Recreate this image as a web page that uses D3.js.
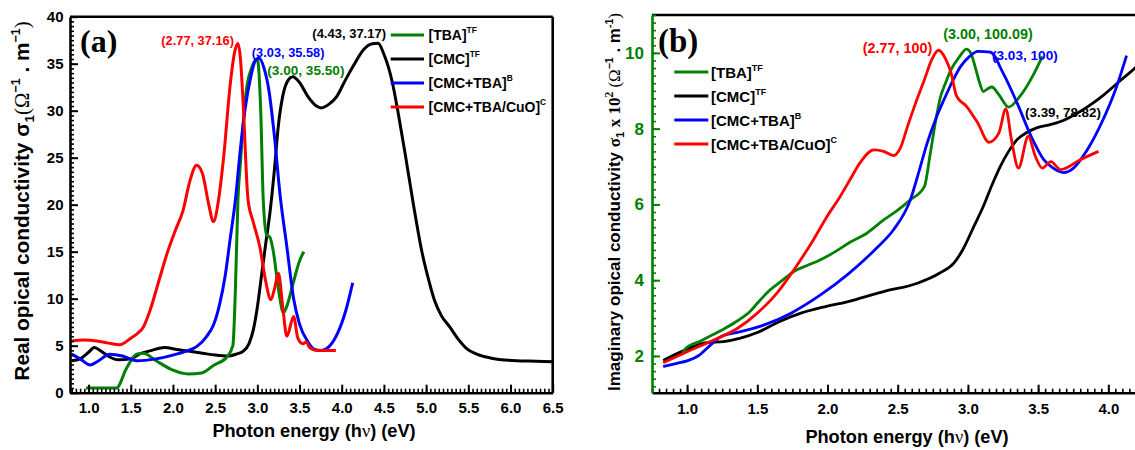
<!DOCTYPE html>
<html><head><meta charset="utf-8">
<script src="https://cdn.jsdelivr.net/npm/d3@7"></script>
<style>
body{margin:0;background:#fff}
svg{display:block}
text{font-family:"Liberation Sans",Arial,sans-serif;font-weight:bold}
</style>
</head><body>
<svg id="c" width="1135" height="450"></svg>
<script>
// ---------- DATA : panel (a) real optical conductivity ----------
const seriesNames = ["[TBA]", "[CMC]", "[CMC+TBA]", "[CMC+TBA/CuO]"];
const seriesSup   = ["TF", "TF", "B", "C"];

const realTBA_E = [0.97,1.1,1.2,1.33,1.45,1.57,1.65,1.8,2.0,2.18,2.34,2.48,2.64,2.71,2.74,2.77,2.8,2.84,2.87,2.93,3.0,3.04,3.07,3.11,3.15,3.19,3.25,3.31,3.36,3.42,3.5,3.55];
const realTBA_S = [0.5,0.5,0.5,0.5,2.6,4.1,4.2,3.4,2.4,2.0,2.1,2.9,3.8,5.0,11,20.5,24.5,29.5,32.2,34.5,35.5,30,20.5,16.8,16.5,15.0,11,8.5,9.5,11.5,14,15];

const realCMC_E = [0.8,0.9,1.0,1.07,1.15,1.25,1.35,1.5,1.6,1.75,1.9,2.05,2.2,2.35,2.5,2.65,2.75,2.83,2.9,2.95,3.0,3.05,3.1,3.15,3.2,3.25,3.3,3.35,3.42,3.5,3.6,3.7,3.76,3.85,3.94,4.04,4.14,4.26,4.35,4.43,4.5,4.6,4.67,4.75,4.85,4.95,5.03,5.1,5.18,5.28,5.38,5.48,5.6,5.76,6.07,6.3,6.5];
const realCMC_S = [3.4,3.6,4.3,4.8,4.4,3.8,3.5,3.6,4.1,4.5,4.8,4.6,4.4,4.2,4.0,3.9,4.1,4.4,5.2,6.6,9.1,12.5,15.9,19.2,23.5,28.5,31.5,33.0,33.6,33.0,31.5,30.5,30.3,30.7,31.5,33.2,34.8,36.5,37.1,37.17,36.0,33.0,29.7,25.5,20.0,15.0,12.0,9.8,8.2,7.0,5.7,4.7,4.1,3.7,3.4,3.35,3.3];

const realMix_E = [0.8,0.9,1.02,1.12,1.25,1.4,1.57,1.8,2.0,2.15,2.28,2.4,2.48,2.55,2.62,2.68,2.74,2.8,2.86,2.92,2.97,3.02,3.08,3.14,3.2,3.27,3.35,3.43,3.5,3.6,3.68,3.76,3.85,3.95,4.05,4.13];
const realMix_S = [4.1,3.6,2.95,3.4,4.1,3.9,3.4,3.6,4.0,4.4,4.9,6.0,7.2,9.3,12.5,16.5,20.5,26,30.5,33.5,35.2,35.6,34.5,32,27.5,21,15.5,10,7.3,5.4,4.6,4.5,4.9,6.3,8.8,11.7];

const realCuO_E = [0.8,0.95,1.1,1.22,1.37,1.5,1.58,1.65,1.73,1.83,1.93,2.03,2.12,2.2,2.28,2.35,2.42,2.48,2.54,2.6,2.68,2.73,2.77,2.8,2.83,2.89,2.95,3.03,3.1,3.16,3.21,3.25,3.3,3.35,3.43,3.48,3.54,3.58,3.62,3.7,3.8,3.93];
const realCuO_S = [5.5,5.6,5.5,5.3,5.1,5.8,6.3,7.0,8.8,11.8,14.8,17.3,19.4,22.5,24.2,23.3,20.2,18.2,20.5,25,32.9,36.2,37.16,35.5,31.1,20.5,18.2,15.5,11.8,9.9,11.3,12.7,9.2,6.0,8.1,5.8,5.2,5.4,4.8,4.5,4.5,4.5];

const realAnno = ["(2.77, 37.16)", "(4.43, 37.17)", "(3.03, 35.58)", "(3.00, 35.50)"];

// ---------- DATA : panel (b) imaginary optical conductivity (x 10^2) ----------
const imTBA_E = [0.97,0.99,1.1,1.19,1.28,1.36,1.45,1.5,1.59,1.68,1.76,1.85,1.95,2.05,2.16,2.28,2.4,2.5,2.59,2.69,2.73,2.77,2.8,2.84,2.88,2.94,2.99,3.02,3.05,3.08,3.11,3.14,3.17,3.22,3.29,3.37,3.46,3.53];
const imTBA_S = [2.1,2.2,2.4,2.57,2.75,2.93,3.18,3.39,3.74,4.0,4.23,4.38,4.54,4.74,5.0,5.24,5.59,5.85,6.12,6.47,7.3,8.2,8.77,9.2,9.56,9.9,10.1,10.0,9.65,9.25,8.98,9.05,9.1,8.9,8.57,8.85,9.38,9.91];

const imCMC_E = [0.83,1.0,1.14,1.26,1.38,1.5,1.66,1.81,1.97,2.14,2.4,2.64,2.8,2.9,2.97,3.04,3.11,3.17,3.23,3.29,3.35,3.42,3.49,3.58,3.66,3.75,3.82,3.9,3.97,4.08,4.19,4.25];
const imCMC_S = [1.88,2.18,2.35,2.38,2.47,2.62,2.91,3.13,3.29,3.43,3.70,3.92,4.19,4.45,4.85,5.4,5.95,6.5,7.0,7.4,7.71,7.9,8.02,8.1,8.19,8.35,8.5,8.7,8.9,9.25,9.6,9.8];

const imMix_E = [0.83,0.92,1.0,1.09,1.17,1.24,1.38,1.55,1.74,1.95,2.14,2.35,2.47,2.59,2.65,2.71,2.77,2.83,2.89,2.95,3.01,3.07,3.16,3.25,3.35,3.45,3.54,3.61,3.68,3.75,3.82,3.94,4.06,4.13];
const imMix_S = [1.72,1.8,1.87,2.03,2.3,2.51,2.64,2.82,3.13,3.61,4.14,4.85,5.33,6.12,6.85,7.62,8.25,8.77,9.25,9.65,9.9,10.04,10.02,9.47,8.68,7.8,7.18,6.95,6.84,6.95,7.27,8.06,9.12,9.93];

const imCuO_E = [0.83,1.0,1.19,1.36,1.5,1.64,1.76,1.9,2.0,2.09,2.16,2.23,2.33,2.4,2.47,2.52,2.57,2.63,2.69,2.74,2.79,2.84,2.88,2.92,2.99,3.07,3.15,3.22,3.27,3.31,3.36,3.43,3.48,3.53,3.59,3.66,3.8,3.93];
const imCuO_S = [1.82,2.11,2.42,2.73,3.13,3.66,4.27,5.07,5.7,6.21,6.65,7.09,7.44,7.4,7.29,7.5,8.06,8.7,9.29,9.8,10.07,9.85,9.47,8.85,8.59,8.15,7.64,7.88,8.52,7.71,6.96,7.8,7.27,6.96,7.13,6.92,7.18,7.4];

const imAnno = ["(2.77, 100)", "(3.00, 100.09)", "(3.03, 100)", "(3.39, 78.82)"];

const xTicksA = [1.0,1.5,2.0,2.5,3.0,3.5,4.0,4.5,5.0,5.5,6.0,6.5];
const yTicksA = [0,5,10,15,20,25,30,35,40];
const xTicksB = [1.0,1.5,2.0,2.5,3.0,3.5,4.0];
const yTicksB = [2,4,6,8,10];

// ---------- DRAWING ----------
const svg = d3.select("#c");
const GREEN = "#008000";
const colors = [GREEN, "#000000", "#0000ff", "#ff0000"];
const zip = (E, S) => E.map((e, i) => [e, S[i]]);

function minorRange(a, b, step) {
  const out = [];
  for (let v = Math.ceil(a / step - 1e-9) * step; v <= b + 1e-9; v += step) out.push(+v.toFixed(3));
  return out;
}

function drawAxes(g, x, y, xt, yt, xMinor, yMinor, yColor, xPad, yPad, yFont) {
  const [x0, x1] = x.range(), [y0, y1] = y.range();
  g.append("g").attr("transform", `translate(0,${y0})`)
    .call(d3.axisBottom(x).tickValues(minorRange(x.domain()[0], x.domain()[1], xMinor)).tickSize(-4).tickFormat(""))
    .call(s => s.select(".domain").remove())
    .call(s => s.selectAll("line").attr("stroke", "#000").attr("stroke-width", 1.6));
  g.append("g").attr("transform", `translate(0,${y0})`)
    .call(d3.axisBottom(x).tickValues(xt).tickSize(-8).tickSizeOuter(0).tickPadding(xPad).tickFormat(d3.format(".1f")))
    .call(s => s.select(".domain").attr("stroke", "#000").attr("stroke-width", 2.6))
    .call(s => s.selectAll("line").attr("stroke", "#000").attr("stroke-width", 2))
    .call(s => s.selectAll("text").attr("fill", "#000").style("font-size", "15px")
      .style("font-family", '"Liberation Sans",Arial,sans-serif').style("font-weight", "bold"));
  g.append("g").attr("transform", `translate(${x0},0)`)
    .call(d3.axisLeft(y).tickValues(minorRange(y.domain()[0], y.domain()[1], yMinor)).tickSize(-4).tickFormat(""))
    .call(s => s.select(".domain").remove())
    .call(s => s.selectAll("line").attr("stroke", yColor).attr("stroke-width", 1.6));
  g.append("g").attr("transform", `translate(${x0},0)`)
    .call(d3.axisLeft(y).tickValues(yt).tickSize(-8).tickSizeOuter(0).tickPadding(yPad).tickFormat(d3.format("d")))
    .call(s => s.select(".domain").attr("stroke", yColor).attr("stroke-width", 2.6))
    .call(s => s.selectAll("line").attr("stroke", yColor).attr("stroke-width", 2))
    .call(s => s.selectAll("text").attr("fill", yColor).style("font-size", yFont + "px")
      .style("font-family", '"Liberation Sans",Arial,sans-serif').style("font-weight", "bold"));
}

function rich(textSel, segs) {
  segs.forEach(s => {
    const t = textSel.append("tspan").text(s.t);
    if (s.dy) t.attr("dy", s.dy);
    if (s.fs) t.style("font-size", s.fs + "px");
    if (s.ff) t.style("font-family", s.ff);
    if (s.fw) t.style("font-weight", s.fw);
  });
}
const SERIF = '"Liberation Serif","Times New Roman",serif';

function legend(g, x0, x1, tx, rows, fs, dyText) {
  rows.forEach((ry, i) => {
    g.append("line").attr("x1", x0).attr("x2", x1).attr("y1", ry).attr("y2", ry)
      .attr("stroke", colors[i]).attr("stroke-width", 3.2);
    const t = g.append("text").attr("x", tx).attr("y", ry + dyText).style("font-size", fs + "px").attr("fill", "#000");
    rich(t, [{t: seriesNames[i]}, {t: seriesSup[i], fs: fs * 0.6, dy: -fs * 0.5}]);
  });
}

// ===== Panel (a) =====
const xA = d3.scaleLinear().domain([0.78, 6.5]).range([70, 552.7]);
const yA = d3.scaleLinear().domain([0, 40]).range([392.7, 16.7]);
const gA = svg.append("g");
const lineA = d3.line().x(d => xA(d[0])).y(d => yA(d[1])).curve(d3.curveMonotoneX);
const realSets = [zip(realTBA_E, realTBA_S), zip(realCMC_E, realCMC_S), zip(realMix_E, realMix_S), zip(realCuO_E, realCuO_S)];
[1, 0, 2, 3].forEach(i => gA.append("path").datum(realSets[i]).attr("d", lineA)
  .attr("fill", "none").attr("stroke", colors[i]).attr("stroke-width", 3).attr("stroke-linejoin", "round"));

gA.append("line").attr("x1", 70).attr("x2", 552.7).attr("y1", 16.7).attr("y2", 16.7).attr("stroke", "#000").attr("stroke-width", 2.6);
gA.append("line").attr("x1", 552.7).attr("x2", 552.7).attr("y1", 16.7).attr("y2", 392.7).attr("stroke", "#000").attr("stroke-width", 2.6);
drawAxes(gA, xA, yA, xTicksA, yTicksA, 0.05, 0.5, "#000", 10, 6.5, 15);

gA.append("text").attr("x", 80).attr("y", 52).style("font-family", SERIF).style("font-size", "32px").text("(a)");

gA.append("text").attr("x", xA(2.77) - 4).attr("y", yA(37.16) + 1.8).attr("text-anchor", "end").attr("fill", "#ff0000").style("font-size", "12.8px").text(realAnno[0]);
gA.append("text").attr("x", xA(4.43) + 8).attr("y", yA(37.17) - 5).attr("text-anchor", "end").attr("fill", "#000").style("font-size", "13px").text(realAnno[1]);
gA.append("text").attr("x", xA(3.03) - 8).attr("y", yA(35.58) - 1).attr("fill", "#0000ff").style("font-size", "12.8px").text(realAnno[2]);
gA.append("text").attr("x", xA(3.00) + 10).attr("y", yA(35.50) + 16).attr("fill", GREEN).style("font-size", "13.6px").text(realAnno[3]);

legend(gA, 390.7, 424, 428.5, [35, 59, 83, 107], 14, 5);

const tA = gA.append("text").attr("transform", "translate(29,201) rotate(-90)").attr("text-anchor", "middle").style("font-size", "20.8px");
rich(tA, [
  {t: "Real opical conductivity σ"},
  {t: "1", fs: 13.5, dy: 5},
  {t: "(Ω", ff: SERIF, fw: "normal", fs: 20.8, dy: -5},
  {t: "−1", fs: 12.5, dy: -9},
  {t: " . m", fs: 20.8, dy: 9},
  {t: "−1", fs: 12.5, dy: -9},
  {t: ")", ff: SERIF, fw: "normal", fs: 20.8, dy: 9}
]);
const xtA = gA.append("text").attr("x", 314).attr("y", 437).attr("text-anchor", "middle").style("font-size", "18.2px");
rich(xtA, [{t: "Photon energy (h"}, {t: "ν", ff: SERIF, fw: "normal"}, {t: ") (eV)"}]);

// ===== Panel (b) =====
const xB = d3.scaleLinear().domain([0.75, 4.19]).range([652, 1135]);
const yB = d3.scaleLinear().domain([1.03, 11]).range([392.7, 15]);
const gB = svg.append("g");
const lineB = d3.line().x(d => xB(d[0])).y(d => yB(d[1])).curve(d3.curveMonotoneX);
const imSets = [zip(imTBA_E, imTBA_S), zip(imCMC_E, imCMC_S), zip(imMix_E, imMix_S), zip(imCuO_E, imCuO_S)];
[1, 0, 2, 3].forEach(i => gB.append("path").datum(imSets[i]).attr("d", lineB)
  .attr("fill", "none").attr("stroke", colors[i]).attr("stroke-width", 2.8).attr("stroke-linejoin", "round"));

gB.append("line").attr("x1", 652).attr("x2", 1135).attr("y1", 15).attr("y2", 15).attr("stroke", "#000").attr("stroke-width", 2.6);
drawAxes(gB, xB, yB, xTicksB, yTicksB, 0.05, 0.2, GREEN, 11, 8, 17);

gB.append("text").attr("x", 658).attr("y", 52).style("font-family", SERIF).style("font-size", "33px").text("(b)");

gB.append("text").attr("x", 862.7).attr("y", 53.3).attr("fill", "#ff0000").style("font-size", "14.4px").text(imAnno[0]);
gB.append("text").attr("x", 943.3).attr("y", 39.3).attr("fill", GREEN).style("font-size", "14.4px").text(imAnno[1]);
gB.append("text").attr("x", 992).attr("y", 60).attr("fill", "#0000ff").style("font-size", "13.6px").text(imAnno[2]);
gB.append("text").attr("x", 1025).attr("y", 117).attr("fill", "#000").style("font-size", "13.4px").text(imAnno[3]);

legend(gB, 674.3, 708.3, 711, [72, 96, 120, 144], 15, 6);

const tB = gB.append("text").attr("transform", "translate(620,202) rotate(-90)").attr("text-anchor", "middle").style("font-size", "17px");
rich(tB, [
  {t: "Imaginary opical conductivity "},
  {t: "σ", ff: SERIF},
  {t: "1", fs: 11.5, dy: 4},
  {t: " x 10", ff: SERIF, fs: 17, dy: -4},
  {t: "2", ff: SERIF, fs: 11.5, dy: -7},
  {t: " (Ω", ff: SERIF, fw: "normal", fs: 17, dy: 7},
  {t: "−1", fs: 10.5, dy: -7},
  {t: " . m", fs: 17, dy: 7},
  {t: "-1", fs: 10.5, dy: -7},
  {t: ")", ff: SERIF, fw: "normal", fs: 17, dy: 7}
]);
const xtB = gB.append("text").attr("x", 907).attr("y", 443).attr("text-anchor", "middle").style("font-size", "18.2px");
rich(xtB, [{t: "Photon energy (h"}, {t: "ν", ff: SERIF, fw: "normal"}, {t: ") (eV)"}]);
</script>
</body></html>
